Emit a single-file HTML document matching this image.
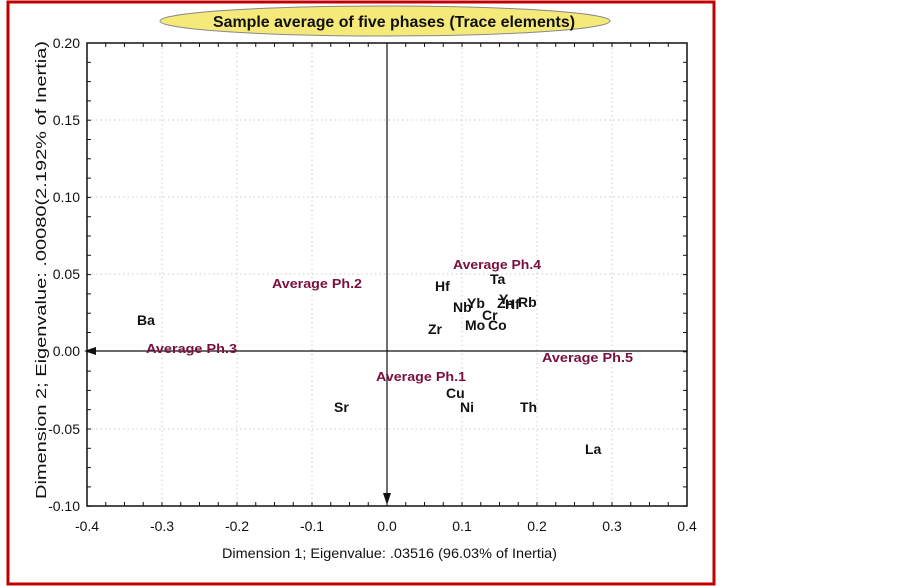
<!DOCTYPE html>
<html><head><meta charset="utf-8"><style>
body{margin:0;background:#fff;}
svg{display:block;font-family:"Liberation Sans",sans-serif;}
.l{font-size:14px;font-weight:bold;fill:#111;}
.a{font-size:13px;font-weight:bold;fill:#7a1040;}
.t{font-size:14px;fill:#111;}
</style></head><body>
<svg width="902" height="586" viewBox="0 0 902 586">
<rect x="8" y="2" width="706" height="582" fill="none" stroke="#c00000" stroke-width="3"/>
<ellipse cx="385" cy="21" rx="225" ry="15" fill="#f5e97a" stroke="#888" stroke-width="1"/>
<text x="213" y="27" textLength="362" lengthAdjust="spacingAndGlyphs" style="font-size:16px;font-weight:bold;fill:#111">Sample average of five phases (Trace elements)</text>
<g stroke="#ccc" stroke-dasharray="1.5,3" stroke-width="1">
<line x1="162" y1="43" x2="162" y2="506"/><line x1="237" y1="43" x2="237" y2="506"/><line x1="312" y1="43" x2="312" y2="506"/>
<line x1="462" y1="43" x2="462" y2="506"/><line x1="537" y1="43" x2="537" y2="506"/><line x1="612" y1="43" x2="612" y2="506"/>
<line x1="87" y1="120" x2="687" y2="120"/><line x1="87" y1="197" x2="687" y2="197"/><line x1="87" y1="274" x2="687" y2="274"/>
<line x1="87" y1="429" x2="687" y2="429"/>
</g>
<rect x="87" y="43" width="600" height="463" fill="none" stroke="#111" stroke-width="1.5"/>
<g stroke="#111" stroke-width="1.2">
<path d="M87 351H687M387 43V500"/>
</g>
<path d="M84 351l12-4v8z" fill="#111"/>
<path d="M387 505l-4-12h8z" fill="#111"/>
<g stroke="#111" stroke-width="1" id="tk">
</g>
<g class="t">
<text x="87" y="531" text-anchor="middle">-0.4</text><text x="162" y="531" text-anchor="middle">-0.3</text><text x="237" y="531" text-anchor="middle">-0.2</text><text x="312" y="531" text-anchor="middle">-0.1</text><text x="387" y="531" text-anchor="middle">0.0</text><text x="462" y="531" text-anchor="middle">0.1</text><text x="537" y="531" text-anchor="middle">0.2</text><text x="612" y="531" text-anchor="middle">0.3</text><text x="687" y="531" text-anchor="middle">0.4</text>
<text x="80" y="48" text-anchor="end">0.20</text><text x="80" y="125" text-anchor="end">0.15</text><text x="80" y="202" text-anchor="end">0.10</text><text x="80" y="279" text-anchor="end">0.05</text><text x="80" y="356" text-anchor="end">0.00</text><text x="80" y="434" text-anchor="end">-0.05</text><text x="80" y="511" text-anchor="end">-0.10</text>
<text x="222" y="558" textLength="335" lengthAdjust="spacingAndGlyphs" style="font-size:14px">Dimension 1; Eigenvalue: .03516 (96.03% of Inertia)</text>
<text transform="translate(46,499) rotate(-90)" textLength="458" lengthAdjust="spacingAndGlyphs" style="font-size:15px">Dimension 2; Eigenvalue: .00080(2.192% of Inertia)</text>
</g>
<g class="a">
<text x="146" y="353" textLength="91" lengthAdjust="spacingAndGlyphs">Average Ph.3</text>
<text x="272" y="288" textLength="90" lengthAdjust="spacingAndGlyphs">Average Ph.2</text>
<text x="376" y="381" textLength="90" lengthAdjust="spacingAndGlyphs">Average Ph.1</text>
<text x="453" y="269" textLength="88" lengthAdjust="spacingAndGlyphs">Average Ph.4</text>
<text x="542" y="362" textLength="91" lengthAdjust="spacingAndGlyphs">Average Ph.5</text>
</g>
<g class="l">
<text x="137" y="325">Ba</text>
<text x="435" y="291">Hf</text>
<text x="490" y="284">Ta</text>
<text x="453" y="312">Nb</text>
<text x="467" y="308">Yb</text>
<text x="497" y="308">Zn</text>
<text x="499" y="304">Y</text>
<text x="505" y="309">Hf</text>
<text x="518" y="307">Rb</text>
<text x="482" y="320">Cr</text>
<text x="465" y="330">Mo</text>
<text x="488" y="330">Co</text>
<text x="428" y="334">Zr</text>
<text x="446" y="398">Cu</text>
<text x="460" y="412">Ni</text>
<text x="334" y="412">Sr</text>
<text x="520" y="412">Th</text>
<text x="585" y="454">La</text>
</g>
</svg>
<script>
var g=document.getElementById('tk'),s='';
for(var i=0;i<=32;i++){var x=87+i*18.75;s+='<line x1="'+x+'" y1="506" x2="'+x+'" y2="502"/><line x1="'+x+'" y1="43" x2="'+x+'" y2="47"/>';}
for(var j=0;j<=24;j++){var y=43+j*19.3;s+='<line x1="87" y1="'+y+'" x2="91" y2="'+y+'"/><line x1="687" y1="'+y+'" x2="683" y2="'+y+'"/>';}
g.innerHTML=s;
</script>
</body></html>
